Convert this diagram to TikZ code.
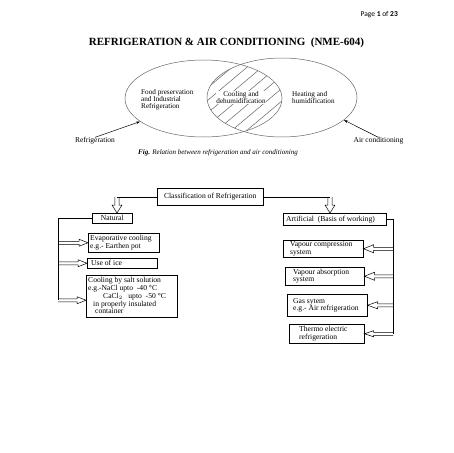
\documentclass[tikz,border=0pt]{standalone}
\usepackage{fontspec}
\setmainfont{Liberation Serif}
\newfontfamily\calib{Carlito}
\usetikzlibrary{shapes.geometric,calc,arrows.meta}
\newcommand\harrow[5]{%
  \coordinate (hA) at #1; \coordinate (hB) at #2;
  \coordinate (hH) at ($(hB)!#5!(hA)$);
  \draw[hollow] ($(hA)!#3!90:(hB)$) -- ($(hH)!#3!90:(hB)$) -- ($(hH)!#4!90:(hB)$) -- (hB)
     -- ($(hH)!#4!-90:(hB)$) -- ($(hH)!#3!-90:(hB)$) -- ($(hA)!#3!-90:(hB)$);
}
\begin{document}
\begin{tikzpicture}[x=1pt,y=-1pt,
  ln/.style={line width=0.5pt},
  bxs/.style={draw, line width=0.5pt, inner sep=0pt, anchor=north west},
  txt/.style={inner sep=0pt, align=left, anchor=west, font=\fontsize{7.6}{7.8}\selectfont},
  vt/.style={inner sep=0pt, align=left, font=\fontsize{7.2}{7}\selectfont},
  hollow/.style={line width=0.5pt, line join=miter},
  ell/.style={ellipse, draw=black!60, line width=0.5pt, inner sep=0pt},
  pt/.style={-{Stealth[length=4pt,width=2.5pt]}, line width=0.5pt}]
\useasboundingbox (0,0) rectangle (453,453);
\fill[white] (0,0) rectangle (453,453);

% header
\node[anchor=east, inner sep=0pt, font=\calib\fontsize{7.5}{8}\selectfont] (page) at (398,15) {Page \textbf{1} of \textbf{23}};
\node[inner sep=0pt, font=\bfseries\fontsize{11}{12}\selectfont] (title) at (226.5,43) {REFRIGERATION \& AIR CONDITIONING\ \ (NME-604)};

% Venn
\node[ell, minimum width=157pt, minimum height=77pt] (le) at (203.5,98.5) {};
\node[ell, minimum width=150pt, minimum height=79pt] (re) at (282,97.5) {};
\begin{scope}
  \clip (203.5,98.5) ellipse [x radius=78.5pt, y radius=38.5pt];
  \clip (282,97.5) ellipse [x radius=75pt, y radius=39.5pt];
  \foreach \k in {-5,...,5}
    \draw[black!60, line width=0.5pt] ({241+15*\k-50},{97.5+42}) -- ({241+15*\k+50},{97.5-42});
\end{scope}
\node[vt, anchor=west] (food) at (141,100) {Food preservation\\and Industrial\\Refrigeration};
\node[vt, fill=white, inner sep=0.6pt, align=center] (cool) at (241,97.5) {Cooling and\\dehumidification};
\node[vt, anchor=west] (heat) at (292,97.5) {Heating and\\humidification};
\node[vt, font=\fontsize{7.5}{8}\selectfont] (lref) at (95,141) {Refrigeration};
\node[vt, font=\fontsize{7.5}{8}\selectfont] (lac) at (378.5,141) {Air conditioning};
\draw[pt] (lref.north) -- (le.200);
\draw[pt] (lac.north) -- (re.340);
\node[inner sep=0pt, anchor=west, font=\itshape\fontsize{7}{8}\selectfont] (cap) at (138,153) {\textbf{Fig.} Relation between refrigeration and air conditioning};

% classification boxes
\node[bxs, minimum width=106pt, minimum height=17pt] (cls) at (157,188) {};
\node[txt, anchor=center] (cls-t) at (cls.center) {Classification of Refrigeration};
\node[bxs, minimum width=40pt, minimum height=10pt] (nat) at (92,213) {};
\node[txt, anchor=center] (nat-t) at (nat.center) {Natural};
\node[bxs, minimum width=103pt, minimum height=12pt] (art) at (283,213) {};
\node[txt] (art-t) at ($(art.west)+(3,0)$) {Artificial\ \ (Basis of working)};

\node[bxs, minimum width=71pt, minimum height=19pt] (evap) at (88,233) {};
\node[txt] (evap-t) at ($(evap.west)+(2,0)$) {Evaporative cooling\\e.g.- Earthen pot};
\node[bxs, minimum width=70pt, minimum height=10pt] (ice) at (87,258) {};
\node[txt] (ice-t) at ($(ice.west)+(4,0)$) {Use of ice};
\node[bxs, minimum width=91pt, minimum height=42pt] (salt) at (86,275) {};
\node[txt] (salt-t) at ($(salt.west)+(2,-0.5)$) {Cooling by salt solution\\e.g.-NaCl upto\ \ -40 °C\\\hspace{15pt}CaCl$_2$\ \ \ upto\ \ -50 °C\\\hspace{5pt}in properly insulated\\\hspace{7pt}container};

\node[bxs, minimum width=80pt, minimum height=17pt] (vc) at (283,240) {};
\node[txt] (vc-t) at ($(vc.west)+(7,0)$) {Vapour compression\\system};
\node[bxs, minimum width=79pt, minimum height=18pt] (va) at (285,267) {};
\node[txt] (va-t) at ($(va.west)+(8,0)$) {Vapour absorption\\system};
\node[bxs, minimum width=80pt, minimum height=22pt] (gas) at (287,294) {};
\node[txt] (gas-t) at ($(gas.west)+(6,0)$) {Gas sytem\\e.g.- Air refrigeration};
\node[bxs, minimum width=75pt, minimum height=19pt] (te) at (289,324) {};
\node[txt] (te-t) at ($(te.west)+(10,0)$) {Thermo electric\\refrigeration};

% connectors
\coordinate (lnx) at (117,0);
\coordinate (rnx) at (330,0);
\coordinate (lx) at (58,0);
\coordinate (rx) at (393,0);
\coordinate (saltin) at ($(salt.west)+(0,4)$);

\draw[ln] (cls.west) -- (cls.west -| lnx);
\harrow{(cls.west -| lnx)}{(nat.north -| lnx)}{2.2pt}{5pt}{8pt}
\draw[ln] (cls.east) -- (cls.east -| rnx);
\harrow{(cls.east -| rnx)}{(art.north -| rnx)}{2.2pt}{5pt}{8pt}

\draw[ln] (nat.west) -- (nat.west -| lx) -- (saltin -| lx);
\harrow{(evap.west -| lx)}{(evap.west)}{1.5pt}{3.5pt}{9pt}
\harrow{(ice.west -| lx)}{(ice.west)}{1.5pt}{3.5pt}{9pt}
\harrow{(saltin -| lx)}{(saltin)}{1.5pt}{3.5pt}{9pt}

\draw[ln] (art.east) -- (art.east -| rx) -- (te.east -| rx);
\harrow{(vc.east -| rx)}{(vc.east)}{1.5pt}{4pt}{10pt}
\harrow{(va.east -| rx)}{(va.east)}{1.5pt}{4pt}{10pt}
\harrow{(gas.east -| rx)}{(gas.east)}{1.5pt}{3.5pt}{10pt}
\harrow{(te.east -| rx)}{(te.east)}{1.5pt}{3pt}{9pt}
\end{tikzpicture}
\end{document}
